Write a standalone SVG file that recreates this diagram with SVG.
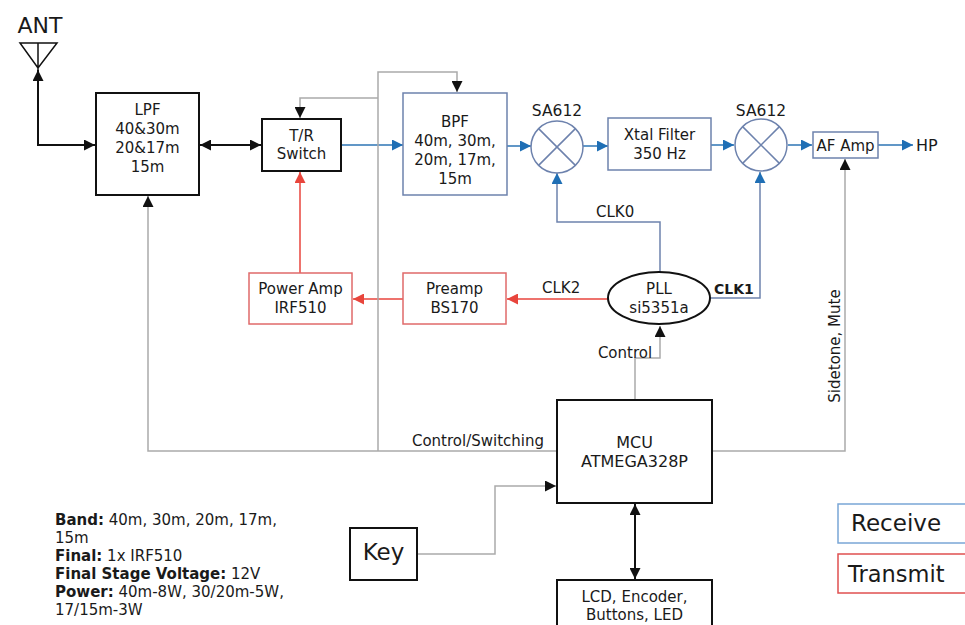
<svg xmlns="http://www.w3.org/2000/svg" width="965" height="625" viewBox="0 0 965 625">
<defs>
<style>
text{font-family:"DejaVu Sans","Liberation Sans",sans-serif;fill:#1a1a1a;font-size:15px}
.c{text-anchor:middle}
.bk{fill:#fff;stroke:#111;stroke-width:2}
.bl{fill:#fff;stroke:#6d82ad;stroke-width:1.5}
.rd{fill:#fff;stroke:#e06a6a;stroke-width:1.5}
.lb{fill:none;stroke:#111;stroke-width:2}
.lblue{fill:none;stroke:#2d74b5;stroke-width:1.5}
.lclk{fill:none;stroke:#6d82ad;stroke-width:1.5}
.lred{fill:none;stroke:#e8453c;stroke-width:1.5}
.lg{fill:none;stroke:#aaa;stroke-width:1.5}
</style>
<marker id="ak" viewBox="0 0 10 10" refX="10" refY="5" markerWidth="11" markerHeight="11" markerUnits="userSpaceOnUse" orient="auto-start-reverse"><path d="M0,0L10,5L0,10z" fill="#111"/></marker>
<marker id="ab" viewBox="0 0 10 10" refX="10" refY="5" markerWidth="11" markerHeight="11" markerUnits="userSpaceOnUse" orient="auto-start-reverse"><path d="M0,0L10,5L0,10z" fill="#1f6fb5"/></marker>
<marker id="ar" viewBox="0 0 10 10" refX="10" refY="5" markerWidth="11" markerHeight="11" markerUnits="userSpaceOnUse" orient="auto-start-reverse"><path d="M0,0L10,5L0,10z" fill="#e8453c"/></marker>
</defs>
<rect width="965" height="625" fill="#fff"/>

<g id="connectors">
<path class="lb" d="M38,70V145H95" marker-start="url(#ak)" marker-end="url(#ak)"/>
<path class="lb" d="M200,145H261" marker-start="url(#ak)" marker-end="url(#ak)"/>
<path class="lblue" d="M341,145H403" marker-end="url(#ab)"/>
<path class="lblue" d="M507,146H531" marker-end="url(#ab)"/>
<path class="lblue" d="M583,146H608" marker-end="url(#ab)"/>
<path class="lblue" d="M711,145H734" marker-end="url(#ab)"/>
<path class="lblue" d="M788,145H812" marker-end="url(#ab)"/>
<path class="lblue" d="M878,145H913" marker-end="url(#ab)"/>
<path class="lclk" d="M660,272V222H557V173" marker-end="url(#ab)"/>
<path class="lclk" d="M710,298H760V172" marker-end="url(#ab)"/>
<path class="lred" d="M608,299H507" marker-end="url(#ar)"/>
<path class="lred" d="M403,299H353" marker-end="url(#ar)"/>
<path class="lred" d="M300,273V172" marker-end="url(#ar)"/>
<path class="lg" d="M557,451H148V196" marker-end="url(#ak)"/>
<path class="lg" d="M378,451V72H457V92" marker-end="url(#ak)"/>
<path class="lg" d="M378,98H300V118" marker-end="url(#ak)"/>
<path class="lg" d="M712,451H845V159" marker-end="url(#ak)"/>
<path class="lg" d="M635,400V358H660V326" marker-end="url(#ak)"/>
<path class="lg" d="M418,554H495V486H556" marker-end="url(#ak)"/>
<path class="lb" d="M635,504V579" marker-start="url(#ak)" marker-end="url(#ak)"/>
<text x="544" y="446" style="text-anchor:end">Control/Switching</text>
<text x="625" y="358" class="c">Control</text>
<text x="596" y="217">CLK0</text>
<text x="542" y="293">CLK2</text>
<text x="714" y="294" style="font-weight:bold;font-size:14px">CLK1</text>
<text transform="translate(840,346) rotate(-90)" class="c">Sidetone, Mute</text>
</g>

<g id="ant">
<text x="40" y="33" class="c" style="font-size:22px">ANT</text>
<path d="M20,43H57L38,68Z M38,43V70" fill="none" stroke="#111" stroke-width="1.5"/>
</g>

<g id="lpf">
<rect class="bk" x="96" y="93" width="103" height="102"/>
<text x="147.5" y="115" class="c">LPF</text>
<text x="147.5" y="134" class="c">40&amp;30m</text>
<text x="147.5" y="153" class="c">20&amp;17m</text>
<text x="147.5" y="172" class="c">15m</text>
</g>

<g id="trswitch">
<rect class="bk" x="262" y="119" width="79" height="52"/>
<text x="301.5" y="141" class="c">T/R</text>
<text x="301.5" y="159" class="c">Switch</text>
</g>

<g id="bpf">
<rect class="bl" x="403" y="93" width="104" height="102"/>
<text x="455" y="127" class="c">BPF</text>
<text x="455" y="146" class="c">40m, 30m,</text>
<text x="455" y="165" class="c">20m, 17m,</text>
<text x="455" y="184" class="c">15m</text>
</g>

<g id="mixer1">
<circle cx="557" cy="147" r="26" fill="#fff" stroke="#6d82ad" stroke-width="1.5"/>
<path d="M538.6,128.6L575.4,165.4M575.4,128.6L538.6,165.4" stroke="#6d82ad" stroke-width="1.5"/>
<text x="557" y="116" class="c" style="font-size:15.5px">SA612</text>
</g>

<g id="xtal">
<rect class="bl" x="608" y="118" width="103" height="52"/>
<text x="659.5" y="139.5" class="c">Xtal Filter</text>
<text x="659.5" y="158.5" class="c">350 Hz</text>
</g>

<g id="mixer2">
<circle cx="761" cy="145" r="26" fill="#fff" stroke="#6d82ad" stroke-width="1.5"/>
<path d="M742.6,126.6L779.4,163.4M779.4,126.6L742.6,163.4" stroke="#6d82ad" stroke-width="1.5"/>
<text x="761" y="116" class="c" style="font-size:15.5px">SA612</text>
</g>

<g id="afamp">
<rect class="bl" x="813" y="132" width="65" height="26"/>
<text x="845.5" y="150.5" class="c">AF Amp</text>
</g>

<g id="hp">
<text x="916" y="151" style="font-size:16px">HP</text>
</g>

<g id="pll">
<ellipse cx="659" cy="298" rx="51" ry="26" fill="#fff" stroke="#111" stroke-width="2"/>
<text x="659" y="293.5" class="c">PLL</text>
<text x="659" y="312.5" class="c">si5351a</text>
</g>

<g id="preamp">
<rect class="rd" x="403" y="273" width="103" height="51"/>
<text x="454.5" y="293.5" class="c">Preamp</text>
<text x="454.5" y="312.5" class="c">BS170</text>
</g>

<g id="poweramp">
<rect class="rd" x="249" y="273" width="103" height="51"/>
<text x="300.5" y="293.5" class="c">Power Amp</text>
<text x="300.5" y="312.5" class="c">IRF510</text>
</g>

<g id="mcu">
<rect class="bk" x="557" y="400" width="155" height="103"/>
<text x="634.5" y="448" class="c" style="font-size:16px">MCU</text>
<text x="634.5" y="467" class="c" style="font-size:16px">ATMEGA328P</text>
</g>

<g id="lcd">
<rect class="bk" x="557" y="580" width="155" height="60"/>
<text x="634.5" y="601.5" class="c">LCD, Encoder,</text>
<text x="634.5" y="619.5" class="c">Buttons, LED</text>
</g>

<g id="key">
<rect class="bk" x="350" y="528" width="67" height="52"/>
<text x="383.5" y="560" class="c" style="font-size:23px">Key</text>
</g>

<g id="specs" style="font-size:14.5px">
<text x="55" y="525"><tspan font-weight="bold">Band:</tspan> 40m, 30m, 20m, 17m,</text>
<text x="55" y="543">15m</text>
<text x="55" y="561"><tspan font-weight="bold">Final:</tspan> 1x IRF510</text>
<text x="55" y="579"><tspan font-weight="bold">Final Stage Voltage:</tspan> 12V</text>
<text x="55" y="597"><tspan font-weight="bold">Power:</tspan> 40m-8W, 30/20m-5W,</text>
<text x="55" y="615">17/15m-3W</text>
</g>

<g id="legend-receive">
<rect x="838" y="504" width="140" height="39" fill="#fff" stroke="#7aa6d6" stroke-width="1.5"/>
<text x="851" y="531" style="font-size:23px">Receive</text>
</g>
<g id="legend-transmit">
<rect x="838" y="554" width="140" height="39" fill="#fff" stroke="#e05050" stroke-width="1.5"/>
<text x="848" y="582" style="font-size:22.5px">Transmit</text>
</g>
</svg>
